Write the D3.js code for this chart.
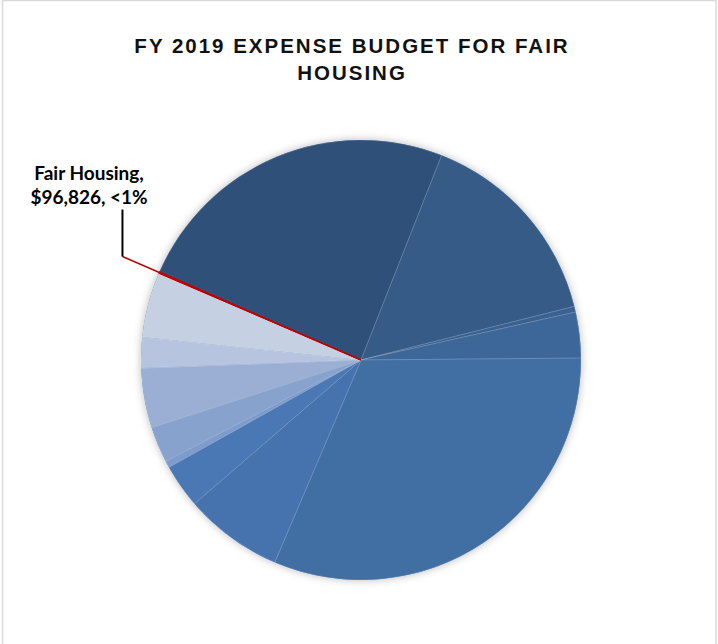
<!DOCTYPE html>
<html>
<head>
<meta charset="utf-8">
<script src="https://cdn.jsdelivr.net/npm/d3@7/dist/d3.min.js"></script>
<style>
  html, body { margin: 0; padding: 0; background: #fff; }
  svg { display: block; }
</style>
</head>
<body>
<svg id="chart" width="718" height="644"></svg>
<script>
// FY 2019 expense budget line items, in dollars, in drawing order (clockwise)
const categories = [
  "Item 1", "Item 2", "Item 3", "Item 4", "Item 5", "Item 6", "Item 7",
  "Item 8", "Item 9", "Item 10", "Item 11", "Item 12", "Fair Housing"
];
const values = [
  17000000, 10530000, 290000, 2343000, 21990000, 5053000, 2246000,
  348000, 1839000, 3059000, 1568000, 3330000, 96826
];
const colors = [
  "#2f5078", "#365b87", "#3a6191", "#3d6699", "#416ea3", "#4673ad", "#4a78b4",
  "#7d9bcb", "#88a2ce", "#9bafd4", "#b6c4df", "#c5d0e3", "#c00000"
];
const titleLines = ["FY 2019 EXPENSE BUDGET FOR FAIR", "HOUSING"];
const highlight = "Fair Housing";

const svg = d3.select("#chart");

// chart area frame
svg.append("rect")
  .attr("x", 2.5).attr("y", 0.5)
  .attr("width", 713.5).attr("height", 650)
  .attr("fill", "#fff").attr("stroke", "#d9d9d9").attr("stroke-width", 1.5);

// soft outer shadow for the pie
const defs = svg.append("defs");
const f = defs.append("filter").attr("id", "pieShadow")
  .attr("x", "-10%").attr("y", "-10%").attr("width", "120%").attr("height", "120%");
f.append("feDropShadow")
  .attr("dx", 0).attr("dy", 0).attr("stdDeviation", 4)
  .attr("flood-color", "#000").attr("flood-opacity", 0.28);

// title
svg.append("text")
  .attr("text-anchor", "middle")
  .attr("font-family", "Liberation Sans, Arial, sans-serif")
  .attr("font-weight", "bold").attr("font-size", 20.5)
  .attr("letter-spacing", 2.0).attr("fill", "#111")
  .selectAll("tspan").data(titleLines).join("tspan")
  .attr("x", 352).attr("y", (d, i) => 53 + i * 26.5)
  .text(d => d);

const cx = 361, cy = 360, r = 220;
const start = -66.3 * Math.PI / 180;

const pie = d3.pie().sort(null).value(d => d.value)
  .startAngle(start).endAngle(start + 2 * Math.PI);
const data = categories.map((c, i) => ({ name: c, value: values[i], color: colors[i] }));
const arcs = pie(data);
const arc = d3.arc().innerRadius(0).outerRadius(r);

const g = svg.append("g").attr("transform", `translate(${cx},${cy})`);

g.append("circle").attr("r", r).attr("fill", "#416ea3").attr("filter", "url(#pieShadow)");

g.selectAll("path.slice").data(arcs).join("path")
  .attr("class", "slice")
  .attr("d", arc)
  .attr("fill", d => d.data.color)
  .attr("stroke", d => d.data.name === highlight ? "#c00000" : "rgba(255,255,255,0.28)")
  .attr("stroke-width", d => d.data.name === highlight ? 1 : 0.6);

// leader line for the highlighted slice
const hl = arcs.find(d => d.data.name === highlight);
const mid = (hl.startAngle + hl.endAngle) / 2;
const leadR = 260;
const px = Math.sin(mid) * leadR, py = -Math.cos(mid) * leadR;
g.append("line")
  .attr("x1", 0).attr("y1", 0).attr("x2", px).attr("y2", py)
  .attr("stroke", "#c00000").attr("stroke-width", 1.5);
g.append("line")
  .attr("x1", px).attr("y1", py).attr("x2", px).attr("y2", py - 47)
  .attr("stroke", "#000").attr("stroke-width", 2);

const pct = hl.value / d3.sum(values);
const labelLines = [
  hl.data.name + ",",
  "$" + d3.format(",")(hl.value) + ", " + (pct < 0.01 ? "<1%" : d3.format(".0%")(pct))
];
svg.append("text")
  .attr("text-anchor", "middle")
  .attr("font-family", "Lato, Open Sans, sans-serif")
  .attr("font-weight", "bold").attr("font-size", 19).attr("fill", "#000")
  .selectAll("tspan").data(labelLines).join("tspan")
  .attr("x", 89).attr("y", (d, i) => 180 + i * 24)
  .text(d => d);
</script>
</body>
</html>
